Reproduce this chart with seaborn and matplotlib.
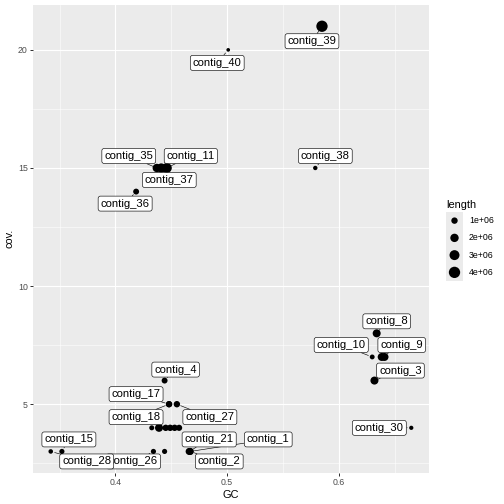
import numpy as np
import pandas as pd
import seaborn as sns
import matplotlib.pyplot as plt
from matplotlib.ticker import MultipleLocator

# contig stats
contigs = ["contig_1", "contig_2", "contig_21", "contig_3", "contig_4", "contig_8",
           "contig_9", "contig_19", "contig_10", "contig_11", "contig_35", "contig_37",
           "contig_36", "contig_38", "contig_39", "contig_40", "contig_30", "contig_15",
           "contig_28", "contig_26", "contig_16", "contig_17", "contig_18", "contig_27",
           "contig_5", "contig_6", "contig_7", "contig_12", "contig_13", "contig_14"]
gc = [0.467, 0.467, 0.466, 0.632, 0.444, 0.634,
      0.6385, 0.641, 0.630, 0.446, 0.437, 0.441,
      0.4185, 0.579, 0.585, 0.501, 0.665, 0.352,
      0.342, 0.434, 0.444, 0.448, 0.448, 0.455,
      0.4325, 0.439, 0.445, 0.449, 0.453, 0.457]
cov = [3, 3, 3, 6, 6, 8,
       7, 7, 7, 15, 15, 15,
       14, 15, 21, 20, 4, 3,
       3, 3, 3, 5, 5, 5,
       4, 4, 4, 4, 4, 4]
length = [1.3e6, 1.0e6, 1.3e6, 1.8e6, 0.8e6, 1.8e6,
          1.8e6, 1.8e6, 0.4e6, 3.0e6, 2.0e6, 2.5e6,
          0.8e6, 0.25e6, 6.2e6, 0.05e6, 0.2e6, 0.5e6,
          0.3e6, 0.5e6, 0.5e6, 1.0e6, 0.9e6, 1.0e6,
          0.45e6, 1.8e6, 1.0e6, 1.0e6, 1.0e6, 0.9e6]

# labels shown in the plot, in drawing order
labelled = ["contig_39", "contig_40", "contig_38", "contig_35", "contig_11", "contig_37",
            "contig_36", "contig_8", "contig_10", "contig_9", "contig_3", "contig_30",
            "contig_4", "contig_17", "contig_18", "contig_27", "contig_15", "contig_26",
            "contig_28", "contig_1", "contig_21", "contig_2"]
legend_lengths = [1e6, 2e6, 3e6, 4e6]

# where each label box sits relative to its point (points)
label_offsets = {
    "contig_39": (-10, -15), "contig_40": (-11, -13), "contig_38": (10, 12),
    "contig_35": (-28, 12), "contig_11": (24, 12), "contig_37": (8, -12),
    "contig_36": (-11, -12), "contig_8": (10, 12), "contig_10": (-31, 12),
    "contig_9": (20, 12), "contig_3": (26, 10), "contig_30": (-32, 0),
    "contig_4": (11, 11), "contig_17": (-33, 10), "contig_18": (-33, -13),
    "contig_27": (33, -13), "contig_15": (7, 12), "contig_28": (36, -10),
    "contig_26": (-20, -10), "contig_21": (20, 12), "contig_1": (78, 12),
    "contig_2": (29, -10),
}

df = pd.DataFrame({"contig": contigs, "GC": gc, "cov.": cov, "length": length})

plt.rcParams["font.family"] = ["Liberation Sans", "DejaVu Sans"]

fig = plt.figure(figsize=(7, 7), dpi=72)
ax = fig.add_axes([0.0649, 0.0621, 0.7869, 0.928])
ax.set_facecolor("#EBEBEB")

size_kw = dict(sizes=(12, 128), size_norm=(0, 4e6))
sns.scatterplot(data=df, x="GC", y="cov.", size="length", color="black",
                linewidth=0, legend=False, ax=ax, zorder=3, **size_kw)

# ggplot style 5% expansion
xr = max(gc) - min(gc)
yr = max(cov) - min(cov)
ax.set_xlim(min(gc) - 0.05 * xr, max(gc) + 0.05 * xr)
ax.set_ylim(min(cov) - 0.05 * yr, max(cov) + 0.05 * yr)

ax.xaxis.set_major_locator(MultipleLocator(0.1))
ax.xaxis.set_minor_locator(MultipleLocator(0.05))
ax.yaxis.set_major_locator(MultipleLocator(5))
ax.yaxis.set_minor_locator(MultipleLocator(2.5))
ax.grid(which="major", color="white", lw=1.1)
ax.grid(which="minor", color="white", lw=0.55)
ax.set_axisbelow(True)
for s in ax.spines.values():
    s.set_visible(False)
ax.tick_params(which="major", length=2.75, width=1.0, color="#333333",
               labelsize=8.8, labelcolor="#4D4D4D", pad=2.2)
ax.tick_params(which="minor", length=0)
ax.set_xlabel("GC", fontsize=11, labelpad=3)
ax.set_ylabel("cov.", fontsize=11, labelpad=3)

# repel-style labels
for k, name in enumerate(labelled):
    i = contigs.index(name)
    ax.annotate(name, xy=(gc[i], cov[i]), xytext=label_offsets[name],
                textcoords="offset points", ha="center", va="center", fontsize=11.3,
                bbox=dict(boxstyle="round,pad=0.22,rounding_size=0.2", fc="white",
                          ec="black", lw=0.6),
                arrowprops=dict(arrowstyle="-", color="black", lw=0.6,
                                shrinkA=0, shrinkB=4),
                zorder=4 + k)

# size legend
lax = fig.add_axes([446 / 504, (504 - 281) / 504, 17 / 504, 69 / 504])
lax.set_facecolor("#EBEBEB")
sns.scatterplot(x=[0.5] * 4, y=[3.5, 2.5, 1.5, 0.5], size=legend_lengths,
                color="black", linewidth=0, legend=False, ax=lax, **size_kw)
lax.set_xlim(0, 1)
lax.set_ylim(0, 4)
lax.set_xticks([])
lax.set_yticks([])
for s in lax.spines.values():
    s.set_visible(False)
for v, yy in zip(legend_lengths, [3.5, 2.5, 1.5, 0.5]):
    lax.text(1.35, yy, f"{v:.0e}", fontsize=8.8, va="center", ha="left")
lax.text(0, 4.12, "length", fontsize=11, va="bottom", ha="left")

fig.savefig("out.png", dpi=72)
